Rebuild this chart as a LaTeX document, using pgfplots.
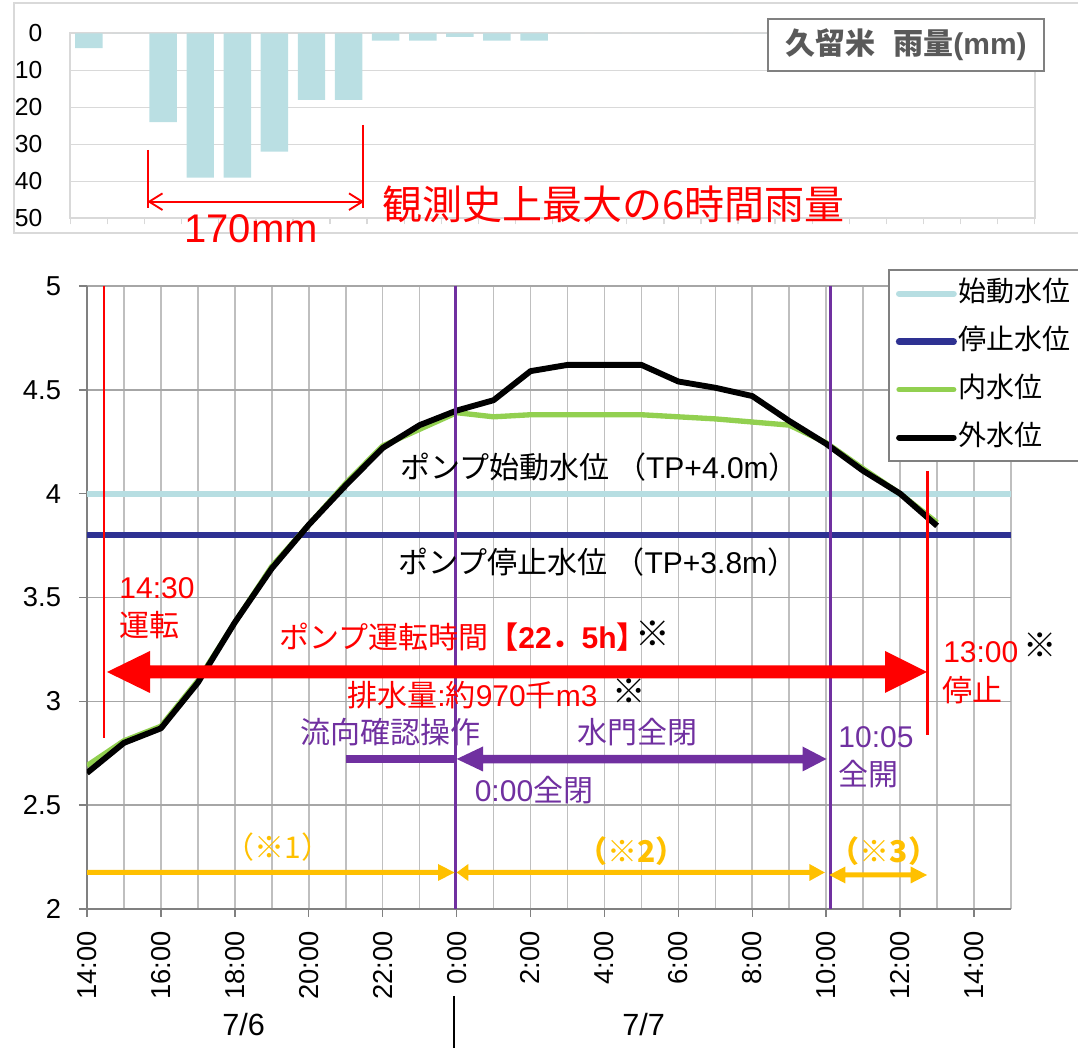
\documentclass[border=0pt]{standalone}
\usepackage{fontspec}
\setmainfont{Liberation Sans}
\newfontfamily\jp{Noto Sans CJK JP}
\usepackage{pgfplots}
\pgfplotsset{compat=1.18}
\definecolor{cstart}{HTML}{B7DEE2}
\definecolor{cstop}{HTML}{2E3192}
\definecolor{cin}{HTML}{92D050}
\definecolor{cpur}{HTML}{7030A0}
\definecolor{cyel}{HTML}{FFC000}
\definecolor{cbar}{HTML}{BADFE3}
\definecolor{gridv}{HTML}{BFBFBF}
\definecolor{gridh}{HTML}{A6A6A6}
\definecolor{axisg}{HTML}{808080}
\definecolor{lgray}{HTML}{D9D9D9}
\definecolor{tgray}{HTML}{595959}
\newcommand{\fs}[1]{\fontsize{#1}{#1}\selectfont}
\begin{document}
\begin{tikzpicture}[x=0.75pt,y=0.75pt]
\path[use as bounding box] (0,0) rectangle (1078,1048);
% top chart outer frame
\draw[lgray, line width=1.5pt] (14.3,1044.7) rectangle (1100,815);
\begin{axis}[
  at={(52.8pt,622.275pt)}, anchor=south west, scale only axis,
  width=723.3pt, height=138.75pt,
  xmin=-0.5, xmax=25.5, ymin=0, ymax=50, y dir=reverse,
  ybar, bar width=0.74,
  xtick={-0.5,0.5,...,25.5}, xticklabels={},
  xtick pos=bottom, tick align=outside,
  major tick length=4.5pt,
  x tick style={lgray, line width=1pt},
  ytick={0,10,...,50}, yticklabels={0,10,20,30,40,50},
  y tick style={draw=none},
  ymajorgrids, major grid style={lgray, line width=1.1pt},
  axis line style={lgray, line width=1.5pt},
  yticklabel style={font=\fs{18.5}, anchor=east, xshift=-13pt},
]
\addplot[fill=cbar, draw=none] coordinates {
(0,4) (1,0) (2,24) (3,39) (4,39) (5,32) (6,18) (7,18) (8,2) (9,2) (10,1) (11,2) (12,2)
(13,0) (14,0) (15,0) (16,0) (17,0) (18,0) (19,0) (20,0) (21,0) (22,0) (23,0) (24,0) (25,0)};
\end{axis}
% main chart
\begin{axis}[
  at={(65.25pt,104.25pt)}, anchor=south west, scale only axis,
  width=693pt, height=467.25pt,
  xmin=0, xmax=25, ymin=2, ymax=5,
  axis x line*=bottom, axis y line*=left,
  axis line style={-, axisg, line width=1.8pt},
  xtick={0,2,...,24},
  xticklabels={14:00,16:00,18:00,20:00,22:00,0:00,2:00,4:00,6:00,8:00,10:00,12:00,14:00},
  minor xtick={0,1,...,25},
  xminorgrids, ymajorgrids,
  ytick={2,2.5,...,5}, yticklabels={2,2.5,3,3.5,4,4.5,5},
  tick align=outside, major tick length=6pt, minor tick length=0pt,
  tick style={axisg, line width=1.1pt},
  major grid style={gridh, line width=1.2pt},
  minor grid style={gridv, line width=1.2pt},
  xticklabel style={font=\fs{20.5}, rotate=90, anchor=east, xshift=-7pt},
  yticklabel style={font=\fs{20.5}, xshift=-10pt},
  legend style={at={(0.8671,1.0268)}, anchor=north west, draw=axisg, line width=1.5pt,
    fill=white, font=\jp\fs{21}, row sep=13pt, inner xsep=5pt, inner ysep=6pt,
    nodes={inner sep=1.5pt, text height=16pt, text depth=4pt},
    column 2/.style={nodes={text width=95pt}}},
  legend cell align=left,
  legend image code/.code={\draw[#1, line cap=round] (2pt,0pt) -- (43pt,0pt);},
]
\addplot[cstart, line width=4.6pt] coordinates {(0,4) (25,4)};
\addlegendentry{始動水位}
\addplot[cstop, line width=4.8pt] coordinates {(0,3.8) (25,3.8)};
\addlegendentry{停止水位}
\addplot[cin, line width=4pt, line join=round] coordinates {
(0,2.69) (1,2.81) (2,2.88) (3,3.10) (4,3.38) (5,3.65) (6,3.85) (7,4.05) (8,4.23) (9,4.31)
(10,4.39) (11,4.37) (12,4.38) (13,4.38) (14,4.38) (15,4.38) (16,4.37) (17,4.36) (18,4.345)
(19,4.33) (20,4.245) (21,4.12) (22,4.0) (23,3.86)};
\addlegendentry{内水位}
\addplot[black, line width=4.4pt, line join=round] coordinates {
(0,2.655) (1,2.80) (2,2.87) (3,3.09) (4,3.38) (5,3.64) (6,3.85) (7,4.04) (8,4.22) (9,4.33)
(10,4.40) (11,4.45) (12,4.59) (13,4.62) (14,4.62) (15,4.62) (16,4.54) (17,4.51) (18,4.47)
(19,4.35) (20,4.24) (21,4.11) (22,4.00) (23,3.845)};
\addlegendentry{外水位}
\end{axis}
% annotations in image coordinates (y downward)
\begin{scope}[shift={(0,1048)}, yscale=-1]
% top chart title box
\draw[axisg, line width=1.5pt, fill=white] (768.2,19.3) rectangle (1043.8,70.7);
\node[text=tgray, font=\bfseries\fs{22.5}, inner sep=0] at (906,45) {{\jp 久留米}\hspace{0.6em}{\jp 雨量}(mm)};
% top chart red annotation
\draw[red, line width=1.6pt] (148.2,150) -- (148.2,208.3);
\draw[red, line width=1.6pt] (363.2,125) -- (363.2,208.3);
\draw[red, line width=1.4pt] (149,201.7) -- (362.4,201.7);
\draw[red, line width=1.4pt] (162.5,193.4) -- (149.2,201.7) -- (162.5,210);
\draw[red, line width=1.4pt] (349,193.4) -- (362.3,201.7) -- (349,210);
\node[text=red, font=\fs{30}, inner sep=0] at (251,229) {170mm};
\node[text=red, font=\jp\fs{30}, inner sep=0] at (613.7,204) {観測史上最大の6時間雨量};
% vertical lines
\draw[cpur, line width=2.2pt] (455.5,286) -- (455.5,909);
\draw[cpur, line width=2.2pt] (830.7,286) -- (830.7,909);
\draw[red, line width=1.8pt] (104,286) -- (104,738);
\draw[red, line width=1.8pt] (927.5,471) -- (927.5,735);
% red double arrow
\fill[red] (107,672) -- (150,651) -- (150,665.5) -- (885,665.5) -- (885,651) -- (927,672)
  -- (885,693) -- (885,678.5) -- (150,678.5) -- (150,693) -- cycle;
% purple arrows
\fill[cpur] (345.7,755) rectangle (455,763.3);
\fill[cpur] (456.7,759) -- (483,746.5) -- (483,755) -- (802.5,755) -- (802.5,746.5) -- (826.5,759)
  -- (802.5,771.5) -- (802.5,763.3) -- (483,763.3) -- (483,771.5) -- cycle;
% yellow arrows
\fill[cyel] (87,870) -- (438,870) -- (438,864) -- (454.5,872.5) -- (438,881) -- (438,875) -- (87,875) -- cycle;
\fill[cyel] (456.7,872.5) -- (468.3,864) -- (468.3,870) -- (809.4,870) -- (809.4,864) -- (824.8,872.5)
  -- (809.4,881) -- (809.4,875) -- (468.3,875) -- (468.3,881) -- cycle;
\fill[cyel] (829.3,875) -- (845.4,866.5) -- (845.4,872.5) -- (910.6,872.5) -- (910.6,866.5) -- (927,875)
  -- (910.6,883.5) -- (910.6,877.5) -- (845.4,877.5) -- (845.4,883.5) -- cycle;
% texts
\node[font=\fs{22.5}, inner sep=0] at (599.5,467) {{\jp ポンプ始動水位 （}TP+4.0m{\jp ）}};
\node[font=\fs{22.5}, inner sep=0] at (598,562) {{\jp ポンプ停止水位 （}TP+3.8m{\jp ）}};
\node[text=red, font=\fs{22.5}, inner sep=0] at (157,588) {14:30};
\node[text=red, font=\jp\fs{22.5}, inner sep=0] at (149,625) {運転};
\node[text=red, font=\fs{22.5}, inner sep=0] at (463,637) {{\jp ポンプ運転時間\bfseries 【}\textbf{22}{\jp\bfseries ．}\textbf{5h}{\jp\bfseries 】}};
\node[font=\jp\bfseries\fs{26}, inner sep=0] at (652.5,634) {※};
\node[text=red, font=\fs{22.5}, inner sep=0] at (472.5,695) {{\jp 排水量}:{\jp 約}970{\jp 千}m3};
\node[font=\jp\bfseries\fs{25}, inner sep=0] at (629.5,691) {※};
\node[text=cpur, font=\jp\fs{22.5}, inner sep=0] at (390,732) {流向確認操作};
\node[text=cpur, font=\jp\fs{22.5}, inner sep=0] at (637,732.5) {水門全閉};
\node[text=cpur, font=\fs{22.5}, inner sep=0] at (534,790) {0:00{\jp 全閉}};
\node[text=cpur, font=\fs{22.5}, inner sep=0] at (876,736.7) {10:05};
\node[text=cpur, font=\jp\fs{22.5}, inner sep=0] at (868,774) {全開};
\node[text=red, font=\fs{22.5}, inner sep=0] at (980.8,651.7) {13:00};
\node[font=\jp\bfseries\fs{25}, inner sep=0] at (1040.3,645) {※};
\node[text=red, font=\jp\fs{22.5}, inner sep=0] at (972.5,690) {停止};
\node[text=cyel, font=\jp\fs{22.5}, inner sep=0] at (278,847) {（※1）};
\node[text=cyel, font=\jp\bfseries\fs{22.5}, inner sep=0] at (631.7,851) {（※2）};
\node[text=cyel, font=\jp\bfseries\fs{22.5}, inner sep=0] at (884,851) {（※3）};
% dates
\node[font=\fs{23}, inner sep=0] at (243.7,1024.7) {7/6};
\node[font=\fs{23}, inner sep=0] at (643.6,1025) {7/7};
\draw[black, line width=2pt] (454,996) -- (454,1048);
\end{scope}
\end{tikzpicture}
\end{document}
